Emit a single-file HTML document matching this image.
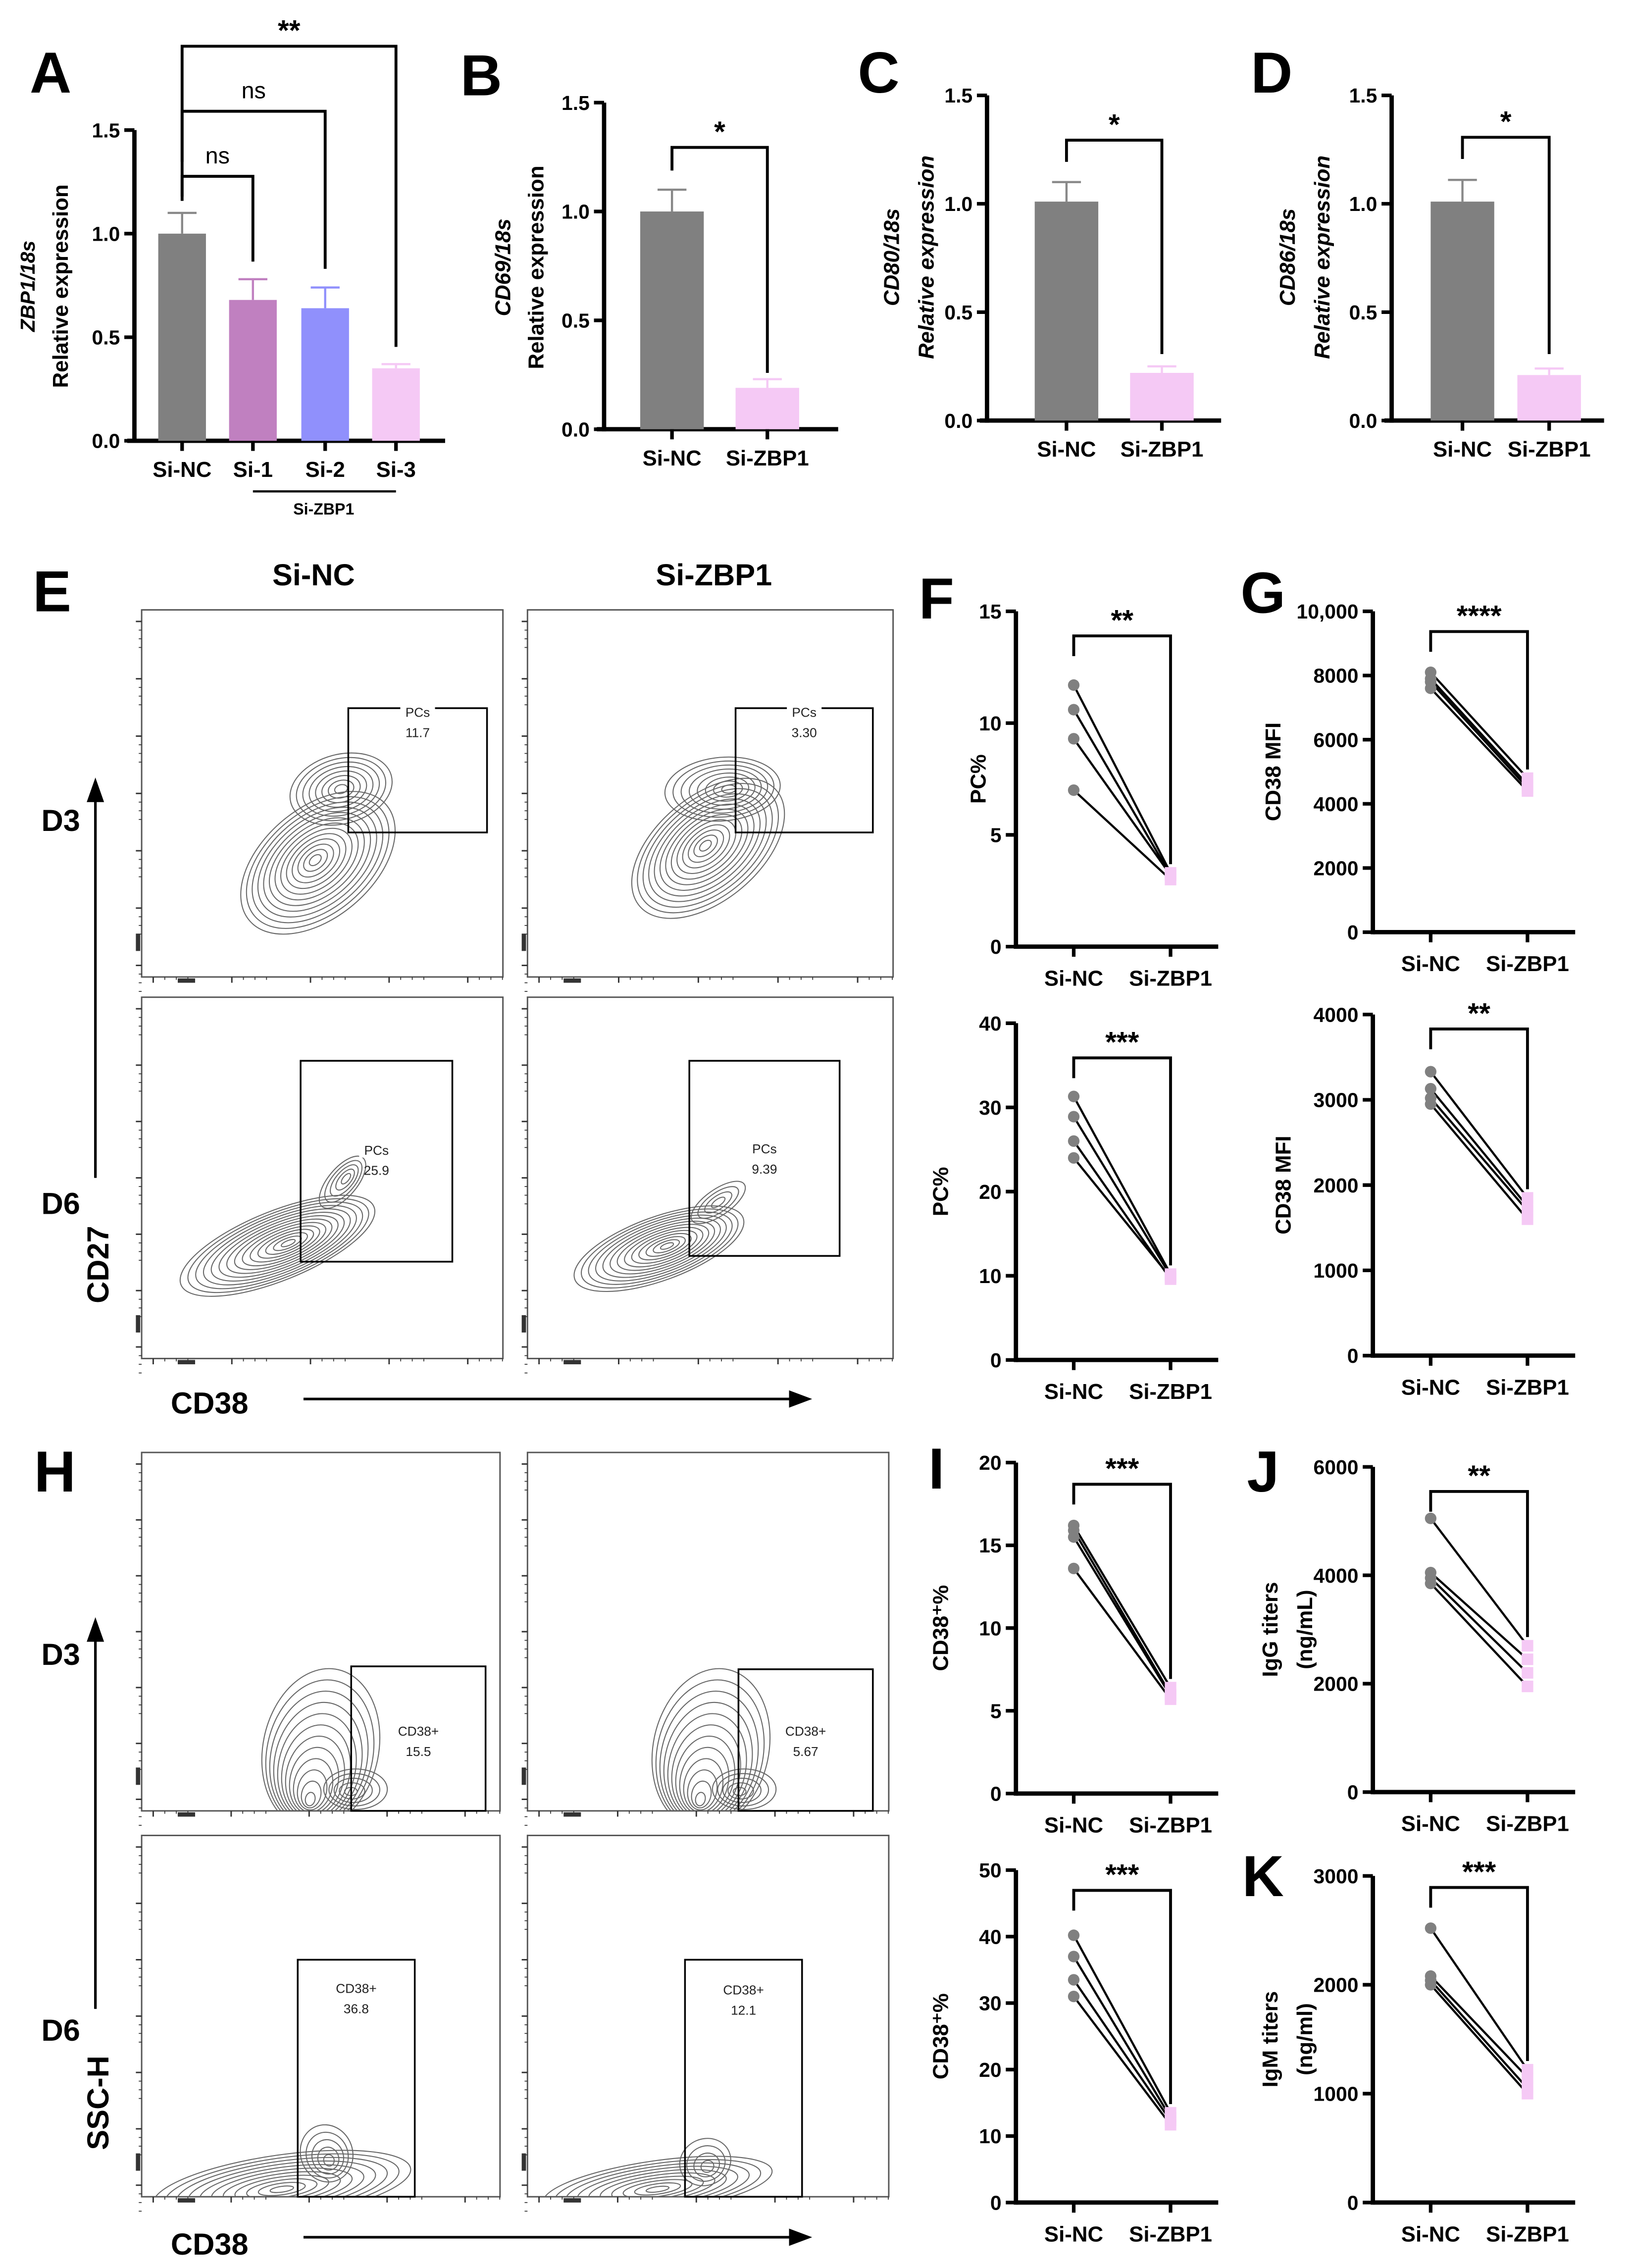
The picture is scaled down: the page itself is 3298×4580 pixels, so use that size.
<!DOCTYPE html>
<html><head><meta charset="utf-8">
<style>
html,body{margin:0;padding:0;background:#fff;}
svg{display:block;}
text{font-family:"Liberation Sans",Arial,sans-serif;}
</style></head>
<body>
<svg id="fig" xmlns="http://www.w3.org/2000/svg" width="3298" height="4580" viewBox="0 0 1130 1569.3">
<rect width="1130" height="1569.3" fill="#fff"/>
</svg>
<script>
// ---- Bar panel data ----
const barCatsA = ["Si-NC","Si-1","Si-2","Si-3"];
const barValsA = [1.0,0.68,0.64,0.35];
const barErrA = [0.10,0.10,0.10,0.02];
const barCats2 = ["Si-NC","Si-ZBP1"];
const barValsB = [1.0,0.19];
const barErrB = [0.10,0.04];
const barValsC = [1.01,0.22];
const barErrC = [0.09,0.03];
const barValsD = [1.01,0.21];
const barErrD = [0.10,0.03];
const barTicks = [0,0.5,1.0,1.5];
const barTickLabels = ["0.0","0.5","1.0","1.5"];
// ---- paired panel data ----
const pairCats = ["Si-NC","Si-ZBP1"];
const F1nc = [11.7,10.6,9.3,7.0];  const F1si = [3.3,3.2,3.2,3.0];
const F2nc = [31.3,28.9,26.0,24.0]; const F2si = [10.2,10.0,9.6,9.8];
const G1nc = [8100,7900,7800,7600]; const G1si = [4800,4600,4500,4400];
const G2nc = [3330,3130,3020,2950]; const G2si = [1850,1750,1700,1600];
const I1nc = [16.2,15.9,15.5,13.6]; const I1si = [6.4,6.0,5.9,5.7];
const I2nc = [40.2,37.0,33.5,31.0]; const I2si = [13.5,12.8,12.3,11.7];
const Jnc = [5050,4050,3950,3850];  const Jsi = [2700,2450,2200,1950];
const Knc = [2520,2080,2040,2000];  const Ksi = [1220,1150,1050,1000];
const F1ticks=[0,5,10,15], F2ticks=[0,10,20,30,40], G1ticks=[0,2000,4000,6000,8000,10000];
const G1tickLabels=["0","2000","4000","6000","8000","10,000"];
const G2ticks=[0,1000,2000,3000,4000], I1ticks=[0,5,10,15,20], I2ticks=[0,10,20,30,40,50];
const Jticks=[0,2000,4000,6000], Kticks=[0,1000,2000,3000];

const NS="http://www.w3.org/2000/svg";
const svg=document.getElementById('fig');
function mk(tag,attrs,name,parent){
  const el=document.createElementNS(NS,tag);
  for(const k in attrs) el.setAttribute(k,attrs[k]);
  
  
  (parent||svg).appendChild(el);
  return el;
}
function txt(x,y,s,size,name,opt){
  opt=opt||{};
  const t=mk('text',{x:x,y:y,'font-size':size,'font-weight':opt.w||'bold','text-anchor':opt.a||'middle',fill:opt.fill||'#000'},name);
  if(opt.it) t.setAttribute('font-style','italic');
  if(opt.rot!==undefined) t.setAttribute('transform','rotate('+opt.rot+' '+x+' '+y+')');
  t.textContent=s; return t;
}
function line(x1,y1,x2,y2,w,name,col){return mk('line',{x1:x1,y1:y1,x2:x2,y2:y2,stroke:col||'#000','stroke-width':w},name);}
function bracket(x1,x2,y,l1,l2,label,name){
  mk('polyline',{points:x1+','+l1+' '+x1+','+y+' '+x2+','+y+' '+x2+','+l2,fill:'none',stroke:'#000','stroke-width':2},name);
  txt((x1+x2)/2,y-(label==='ns'?9:4),label,label==='ns'?16:20,name+'-label',{w:label==='ns'?'normal':'bold'});
}
function barPanel(o){
  const sy=v=>o.y0-(v/o.vmax)*(o.y0-o.ytop);
  line(o.ax,o.ytop,o.ax,o.y0+1.5,3,o.id+'-y-axis');
  line(o.ax-5,o.y0,o.xend,o.y0,3,o.id+'-x-axis');
  barTicks.forEach((t,i)=>{
    line(o.ax-7,sy(t),o.ax,sy(t),2.5,o.id+'-y-tick');
    txt(o.ax-10,sy(t)+5,barTickLabels[i],14,o.id+'-y-tick-label',{a:'end'});
  });
  o.cats.forEach((c,i)=>{
    const cx=o.xs[i];
    mk('rect',{x:cx-o.bw/2,y:sy(o.vals[i]),width:o.bw,height:o.y0-sy(o.vals[i]),fill:o.cols[i]},o.id+'-bar-'+c.toLowerCase());
    line(cx,sy(o.vals[i]),cx,sy(o.vals[i]+o.errs[i]),1.5,o.id+'-error-bar',o.ecols[i]);
    line(cx-10,sy(o.vals[i]+o.errs[i]),cx+10,sy(o.vals[i]+o.errs[i]),1.5,o.id+'-error-cap',o.ecols[i]);
    line(cx,o.y0,cx,o.y0+7,2.5,o.id+'-x-tick');
    txt(cx,o.y0+25,c,15,o.id+'-x-label');
  });
}
const grey='#808080', pk='#f5c9f5';
barPanel({id:'a',ax:93,y0:305,ytop:90,vmax:1.5,xend:308,xs:[126,175,225,274],bw:33,cats:barCatsA,vals:barValsA,errs:barErrA,cols:[grey,'#c080c0','#9090fc',pk],ecols:['#888','#c080c0','#9090fc',pk]});
line(175,340,274,340,1.5,'a-si-zbp1-group-line');
txt(224,356,'Si-ZBP1',11,'a-group-label');
bracket(126,175,122,139,181,'ns','a-bracket-si1');
bracket(126,225,77,136,186,'ns','a-bracket-si2');
bracket(126,274,32,112,240,'**','a-bracket-si3');
txt(24,198,'ZBP1/18s',14,'a-y-title-gene',{rot:-90,it:true});
txt(47,198,'Relative expression',15,'a-y-title',{rot:-90});
barPanel({id:'b',ax:418,y0:297,ytop:71,vmax:1.5,xend:580,xs:[465,531],bw:44,cats:barCats2,vals:barValsB,errs:barErrB,cols:[grey,pk],ecols:['#888',pk]});
bracket(465,531,102,118,258,'*','b-bracket');
txt(353,185,'CD69/18s',15,'b-y-title-gene',{rot:-90,it:true});
txt(376,185,'Relative expression',15,'b-y-title',{rot:-90});
barPanel({id:'c',ax:683,y0:291,ytop:66,vmax:1.5,xend:845,xs:[738,804],bw:44,cats:barCats2,vals:barValsC,errs:barErrC,cols:[grey,pk],ecols:['#888',pk]});
bracket(738,804,97,112,245,'*','c-bracket');
txt(622,178,'CD80/18s',15,'c-y-title-gene',{rot:-90,it:true});
txt(646,178,'Relative expression',15,'c-y-title',{rot:-90,it:true});
barPanel({id:'d',ax:963,y0:291,ytop:66,vmax:1.5,xend:1110,xs:[1012,1072],bw:44,cats:barCats2,vals:barValsD,errs:barErrD,cols:[grey,pk],ecols:['#888',pk]});
bracket(1012,1072,95,110,245,'*','d-bracket');
txt(896,178,'CD86/18s',15,'d-y-title-gene',{rot:-90,it:true});
txt(920,178,'Relative expression',15,'d-y-title',{rot:-90,it:true});

function pairPanel(o){
  const sy=v=>o.y0-(v/o.vmax)*(o.y0-o.ytop);
  const xs=[o.ax+40,o.ax+107];
  line(o.ax,o.ytop,o.ax,o.y0+1.5,3,o.id+'-y-axis');
  line(o.ax,o.y0,o.ax+140,o.y0,3,o.id+'-x-axis');
  o.ticks.forEach((t,i)=>{
    line(o.ax-7,sy(t),o.ax,sy(t),2.5,o.id+'-y-tick');
    txt(o.ax-10,sy(t)+5,o.tl?o.tl[i]:String(t),14,o.id+'-y-tick-label',{a:'end'});
  });
  pairCats.forEach((c,i)=>{
    line(xs[i],o.y0,xs[i],o.y0+7,2.5,o.id+'-x-tick');
    txt(xs[i],o.y0+27,c,15,o.id+'-x-label');
  });
  o.nc.forEach((v,i)=>{
    line(xs[0],sy(v),xs[1],sy(o.si[i]),1.5,o.id+'-pair-line');
  });
  o.nc.forEach(v=>{mk('circle',{cx:xs[0],cy:sy(v),r:4,fill:grey},o.id+'-point-si-nc');});
  o.si.forEach(v=>{mk('rect',{x:xs[1]-4,y:sy(v)-4,width:8,height:8,fill:pk},o.id+'-point-si-zbp1');});
  bracket(xs[0],xs[1],o.by,o.by+14,sy(Math.max(...o.si))-6,o.star,o.id+'-bracket');
  if(o.t1) txt(o.tx,(o.ytop+o.y0)/2,o.t1,15,o.id+'-y-title',{rot:-90});
  if(o.t2) txt(o.tx+24,(o.ytop+o.y0)/2,o.t2,15,o.id+'-y-title-units',{rot:-90});
}
pairPanel({id:'f1',ax:703,y0:655,ytop:423,vmax:15,ticks:F1ticks,nc:F1nc,si:F1si,by:440,star:'**',tx:682,t1:'PC%'});
pairPanel({id:'f2',ax:703,y0:941,ytop:708,vmax:40,ticks:F2ticks,nc:F2nc,si:F2si,by:732,star:'***',tx:656,t1:'PC%'});
pairPanel({id:'g1',ax:950,y0:645,ytop:423,vmax:10000,ticks:G1ticks,tl:G1tickLabels,nc:G1nc,si:G1si,by:437,star:'****',tx:886,t1:'CD38 MFI'});
pairPanel({id:'g2',ax:950,y0:938,ytop:702,vmax:4000,ticks:G2ticks,nc:G2nc,si:G2si,by:712,star:'**',tx:893,t1:'CD38 MFI'});
pairPanel({id:'i1',ax:703,y0:1241,ytop:1012,vmax:20,ticks:I1ticks,nc:I1nc,si:I1si,by:1027,star:'***',tx:656,t1:'CD38⁺%'});
pairPanel({id:'i2',ax:703,y0:1524,ytop:1294,vmax:50,ticks:I2ticks,nc:I2nc,si:I2si,by:1308,star:'***',tx:656,t1:'CD38⁺%'});
pairPanel({id:'j',ax:950,y0:1240,ytop:1015,vmax:6000,ticks:Jticks,nc:Jnc,si:Jsi,by:1032,star:'**',tx:884,t1:'IgG titers',t2:'(ng/mL)'});
pairPanel({id:'k',ax:950,y0:1524,ytop:1298,vmax:3000,ticks:Kticks,nc:Knc,si:Ksi,by:1306,star:'***',tx:884,t1:'IgM titers',t2:'(ng/ml)'});

// Flow plots
const defs=mk('defs',{},'defs');
function flowBox(x,y,w,h,id){
  const cp=mk('clipPath',{id:'clip-'+id},id+'-clip',defs);
  mk('rect',{x:x,y:y,width:w,height:h},id+'-clip-rect',cp);
  mk('rect',{x:x,y:y,width:w,height:h,fill:'none',stroke:'#555','stroke-width':1},id+'-frame');
  for(let k=0;k<7;k++){const ty=y+8+k*(h-16)/6; line(x-4,ty,x,ty,1,id+'-y-tick','#333');
    for(let m=1;m<4;m++) line(x-2,ty+m*6,x,ty+m*6,0.6,id+'-y-minor-tick','#333');}
  for(let k=0;k<5;k++){const tx=x+8+k*(w-16)/4.3; line(tx,y+h,tx,y+h+4,1,id+'-x-tick','#333');
    for(let m=1;m<4;m++) line(tx+m*8,y+h,tx+m*8,y+h+2,0.6,id+'-x-minor-tick','#333');}
  mk('rect',{x:x-4,y:y+h-30,width:3,height:12,fill:'#333'},id+'-y-tick-cluster');
  mk('rect',{x:x+25,y:y+h+1,width:12,height:3,fill:'#333'},id+'-x-tick-cluster');
  return 'url(#clip-'+id+')';
}
function contours(clip,px,py,n,rx,ry,rot,dx,dy,id){
  const g=mk('g',{'clip-path':clip},id);
  for(let k=1;k<=n;k++){
    const s=k/n, cx=px+dx*s, cy=py+dy*s;
    mk('ellipse',{cx:cx,cy:cy,rx:rx*s,ry:ry*s,fill:'none',stroke:'#666','stroke-width':0.7,transform:'rotate('+rot+' '+cx+' '+cy+')'},id+'-level',g);
  }
}
function gate(x,y,w,h,l1,l2,id,ly){
  mk('rect',{x:x,y:y,width:w,height:h,fill:'none',stroke:'#000','stroke-width':1.2},id+'-gate');
  const yy=ly||y+6;
  mk('rect',{x:x+w/2-12,y:yy-8,width:24,height:10,fill:'#fff'},id+'-gate-label-bg');
  txt(x+w/2,yy,l1,9,id+'-gate-label',{w:'normal',fill:'#222'});
  txt(x+w/2,yy+14,l2,9,id+'-gate-value',{w:'normal',fill:'#222'});
}
// E
const c1=flowBox(98,422,250,254,'e-nc-d3'), c2=flowBox(365,422,253,254,'e-si-d3');
const c3=flowBox(98,690,250,250,'e-nc-d6'), c4=flowBox(365,690,253,250,'e-si-d6');
contours(c1,218,595,13,62,38,-40,2,2,'e-nc-d3-contour-main'); contours(c1,236,546,8,36,24,-15,0,0,'e-nc-d3-contour-upper');
contours(c2,488,585,13,62,36,-40,2,2,'e-si-d3-contour-main'); contours(c2,505,546,8,40,22,-5,-5,0,'e-si-d3-contour-upper');
contours(c3,200,860,14,72,24,-22,-8,2,'e-nc-d6-contour'); contours(c3,240,815,5,22,10,-50,-3,3,'e-nc-d6-contour-tail');
contours(c4,462,862,13,62,22,-20,-6,2,'e-si-d6-contour'); contours(c4,497,832,4,22,9,-35,0,0,'e-si-d6-contour-tail');
gate(241,490,96,86,'PCs','11.7','e-nc-d3',496); gate(509,490,95,86,'PCs','3.30','e-si-d3',496);
gate(208,734,105,139,'PCs','25.9','e-nc-d6',799); gate(477,734,104,135,'PCs','9.39','e-si-d6',798);
txt(217,405,'Si-NC',21,'e-col-title-si-nc'); txt(494,405,'Si-ZBP1',21,'e-col-title-si-zbp1');
txt(42,575,'D3',21,'e-row-label-d3'); txt(42,840,'D6',21,'e-row-label-d6');
line(66,815,66,552,1.8,'e-y-arrow-line'); mk('polygon',{points:'60,555 72,555 66,538'},'e-y-arrow-head');
txt(75,875,'CD27',21,'e-y-axis-title',{rot:-90});
txt(145,978,'CD38',21,'e-x-axis-title');
line(210,968,548,968,1.8,'e-x-arrow-line'); mk('polygon',{points:'546,962 546,974 562,968'},'e-x-arrow-head');
// H
const h1=flowBox(98,1005,248,248,'h-nc-d3'), h2=flowBox(365,1005,250,248,'h-si-d3');
const h3=flowBox(98,1270,248,250,'h-nc-d6'), h4=flowBox(365,1270,250,250,'h-si-d6');
contours(h1,214,1248,12,40,56,12,8,-38,'h-nc-d3-contour'); contours(h1,242,1240,5,22,14,0,4,-2,'h-nc-d3-contour-side');
contours(h2,484,1248,12,40,56,12,8,-38,'h-si-d3-contour'); contours(h2,511,1240,5,22,14,0,4,-2,'h-si-d3-contour-side');
contours(h3,195,1515,11,90,22,-8,0,-2,'h-nc-d6-contour'); contours(h3,228,1496,5,18,20,-20,-2,-6,'h-nc-d6-contour-tail');
contours(h4,455,1515,10,80,18,-8,0,-2,'h-si-d6-contour'); contours(h4,490,1500,4,18,16,-25,-2,-4,'h-si-d6-contour-tail');
gate(243,1153,93,100,'CD38+','15.5','h-nc-d3',1201); gate(511,1155,93,98,'CD38+','5.67','h-si-d3',1201);
gate(206,1356,81,164,'CD38+','36.8','h-nc-d6',1379); gate(474,1356,81,164,'CD38+','12.1','h-si-d6',1380);
txt(42,1152,'D3',21,'h-row-label-d3'); txt(42,1412,'D6',21,'h-row-label-d6');
line(66,1390,66,1133,1.8,'h-y-arrow-line'); mk('polygon',{points:'60,1136 72,1136 66,1119'},'h-y-arrow-head');
txt(75,1455,'SSC-H',21,'h-y-axis-title',{rot:-90});
txt(145,1560,'CD38',21,'h-x-axis-title');
line(210,1548,548,1548,1.8,'h-x-arrow-line'); mk('polygon',{points:'546,1542 546,1554 562,1548'},'h-x-arrow-head');

[['A',35,64],['B',333,66],['C',608,64],['D',880,64],['E',36,423],['F',648,428],['G',874,424],['H',38,1032],['I',648,1030],['J',874,1032],['K',874,1312]].forEach(p=>{
  txt(p[1],p[2],p[0],40,'panel-letter-'+p[0].toLowerCase());
});
</script>
</body></html>
